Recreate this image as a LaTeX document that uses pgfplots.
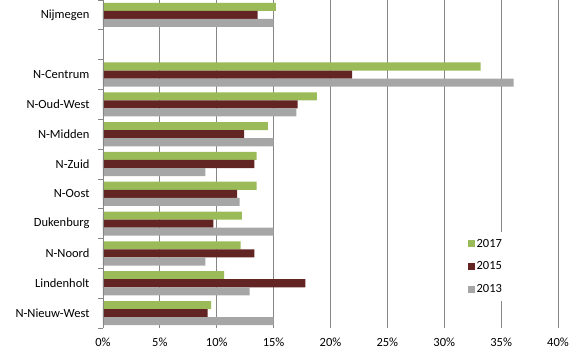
\documentclass[border=0pt]{standalone}
\usepackage{pgfplots}
\pgfplotsset{compat=1.18}
\usepackage{fontspec}
\setmainfont{Carlito}
\definecolor{cgreen}{RGB}{155,187,89}
\definecolor{cred}{RGB}{99,37,35}
\definecolor{cgray}{RGB}{166,166,166}
\definecolor{cgrid}{RGB}{134,134,134}
\begin{document}
\begin{tikzpicture}
\useasboundingbox (-103pt,-27pt) rectangle (475pt,328pt);
\begin{axis}[
  scale only axis,
  width=455pt, height=328pt,
  xmin=0, xmax=40,
  ymin=-0.5, ymax=10.5,
  y dir=reverse,
  xbar, bar width=0.27,
  xtick={0,5,...,40},
  xticklabel={\pgfmathprintnumber{\tick}\%},
  /pgf/number format/assume math mode=true,
  ytick={0,...,10},
  yticklabels={Nijmegen,,N-Centrum,N-Oud-West,N-Midden,N-Zuid,N-Oost,Dukenburg,N-Noord,Lindenholt,N-Nieuw-West},
  ytick pos=left,
  major tick length=0pt,
  xmajorgrids,
  grid style={cgrid, line width=0.8pt},
  axis line style={draw=none},
  ticklabel style={font=\fontsize{12.5}{14}\selectfont, text=black},
  xticklabel style={yshift=-6pt},
  yticklabel style={xshift=-10pt},
  legend style={at={(0.79,0.293)}, anchor=north west, draw=none, fill=white,
    font=\fontsize{12.5}{14}\selectfont, row sep=9pt, inner sep=5pt},
  legend cell align=left,
  legend image code/.code={\fill[#1] (0pt,-3.5pt) rectangle (7pt,3.5pt);},
  clip=false,
]
\addplot[fill=cgreen, draw=none, bar shift=-0.27] coordinates {
(15.2,0) (33.2,2) (18.8,3) (14.5,4) (13.5,5) (13.5,6) (12.2,7) (12.1,8) (10.65,9) (9.5,10)};
\addplot[fill=cred, draw=none, bar shift=0] coordinates {
(13.6,0) (21.9,2) (17.1,3) (12.4,4) (13.3,5) (11.8,6) (9.7,7) (13.3,8) (17.8,9) (9.2,10)};
\addplot[fill=cgray, draw=none, bar shift=0.27] coordinates {
(15.0,0) (36.1,2) (17.0,3) (15.0,4) (9.0,5) (12.0,6) (15.0,7) (9.0,8) (12.9,9) (15.0,10)};
\legend{2017,2015,2013}
\draw[cgrid, line width=0.8pt] (rel axis cs:0,0) -- (rel axis cs:0,1);
\pgfplotsinvokeforeach{-0.5,0.5,...,10.5}{
  \draw[cgrid, line width=0.8pt] (axis cs:0,#1) -- ([xshift=-5pt]axis cs:0,#1);
}
\end{axis}
\end{tikzpicture}
\end{document}
